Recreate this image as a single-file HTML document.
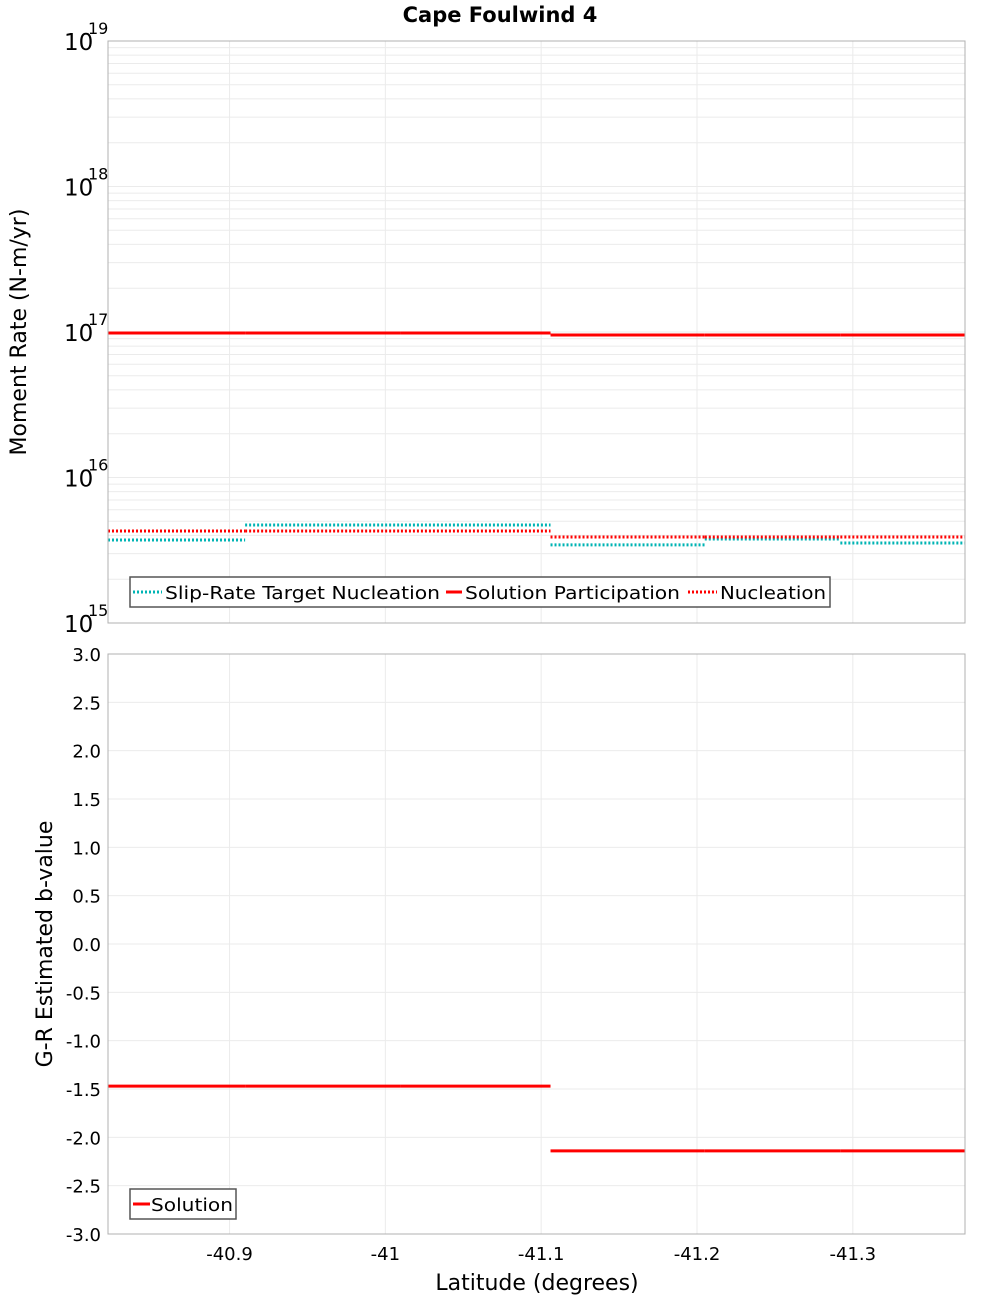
<!DOCTYPE html>
<html><head><meta charset="utf-8"><style>
body{margin:0;background:#fff;}
svg text{font-family:"DejaVu Sans","Liberation Sans",sans-serif;}
</style></head><body>
<svg id="c" width="1000" height="1300" xmlns="http://www.w3.org/2000/svg"></svg>
<script>
const xTicks=[-40.9,-41.0,-41.1,-41.2,-41.3];
const xTickLabels=["-40.9","-41","-41.1","-41.2","-41.3"];
const segEdges=[-40.822,-40.910,-41.010,-41.106,-41.205,-41.292,-41.372];
const slipTarget=[3.72e15,4.72e15,4.72e15,3.44e15,3.78e15,3.55e15];
const solPart=[9.85e16,9.85e16,9.85e16,9.54e16,9.54e16,9.54e16];
const nucleation=[4.29e15,4.29e15,4.29e15,3.9e15,3.9e15,3.9e15];
const bValue=[-1.47,-1.47,-1.47,-2.14,-2.14,-2.14];
const logTicks=[15,16,17,18,19];
const bTicks=[3,2.5,2,1.5,1,0.5,0,-0.5,-1,-1.5,-2,-2.5,-3];

const svg=document.getElementById('c');
const NS='http://www.w3.org/2000/svg';
function el(t,a,p){const e=document.createElementNS(NS,t);for(const k in a)e.setAttribute(k,a[k]);(p||svg).appendChild(e);return e;}
const L=108,R=965,T1=41,B1=623,T2=654,B2=1234;
const xs=v=>L+(v-segEdges[0])/(segEdges[segEdges.length-1]-segEdges[0])*(R-L);
const y1=v=>B1-(Math.log10(v)-15)/4*(B1-T1);
const y2=v=>B2-(v+3)/6*(B2-T2);

for(const [t,b,n] of [[T1,B1,'top-plot-area'],[T2,B2,'bottom-plot-area']]){
  const r=el('rect',{x:L,y:t,width:R-L,height:b-t,fill:'#fff',stroke:'none'});
  
}
for(const xt of xTicks){
  for(const [t,b] of [[T1,B1],[T2,B2]]){
    const g=el('line',{x1:xs(xt),x2:xs(xt),y1:t,y2:b,stroke:'#ebebeb','stroke-width':1});
    
  }
}
for(let d=15;d<19;d++)for(let m=1;m<10;m++){
  const v=m*Math.pow(10,d);const y=y1(v);
  const g=el('line',{x1:L,x2:R,y1:y,y2:y,stroke:'#ebebeb','stroke-width':1});
  
}
for(const b of bTicks){const y=y2(b);
  const g=el('line',{x1:L,x2:R,y1:y,y2:y,stroke:'#ebebeb','stroke-width':1});
  }

function series(vals,yf,color,dash,name){
  for(let i=0;i<vals.length;i++){
    const a={x1:xs(segEdges[i]),x2:xs(segEdges[i+1]),y1:yf(vals[i]),y2:yf(vals[i]),stroke:color,'stroke-width':3};
    if(dash)a['stroke-dasharray']='2,2';
    const l=el('line',a);
    
  }
}
series(solPart,y1,'#ff0000',false,'solution-participation-segment');
series(slipTarget,y1,'#00b4b4',true,'slip-rate-target-segment');
series(nucleation,y1,'#ff0000',true,'nucleation-segment');
series(bValue,y2,'#ff0000',false,'b-value-segment');

for(const [t,b] of [[T1,B1],[T2,B2]]){
  const r=el('rect',{x:L,y:t,width:R-L,height:b-t,fill:'none',stroke:'#b0b0b0'});
  
}
for(const e of logTicks){const y=y1(Math.pow(10,e));
  const t=el('text',{x:64,y:y+9,'font-size':23});t.textContent='10';
  
  const s=el('text',{x:88,y:y-7,'font-size':16});s.textContent=String(e);
  
}
for(const b of bTicks){
  const t=el('text',{x:101,y:y2(b)+7,'font-size':18,'text-anchor':'end'});t.textContent=b.toFixed(1);
  
}
xTicks.forEach((v,i)=>{
  const t=el('text',{x:xs(v),y:1260,'font-size':18,'text-anchor':'middle'});t.textContent=xTickLabels[i];
  
});
let t=el('text',{x:500,y:22,'font-size':21,'font-weight':'bold','text-anchor':'middle'});t.textContent='Cape Foulwind 4';

t=el('text',{x:537,y:1290,'font-size':22,'text-anchor':'middle'});t.textContent='Latitude (degrees)';

t=el('text',{x:0,y:0,'font-size':22,'text-anchor':'middle',transform:'translate(26,332) rotate(-90)'});t.textContent='Moment Rate (N-m/yr)';

t=el('text',{x:0,y:0,'font-size':22,'text-anchor':'middle',transform:'translate(52,944) rotate(-90)'});t.textContent='G-R Estimated b-value';


let lg=el('rect',{x:130,y:577,width:700,height:30,fill:'#fff',stroke:'#555','stroke-width':1.5});

const items=[[133,165,'#00b4b4',true,'Slip-Rate Target Nucleation',275],[446,465,'#ff0000',false,'Solution Participation',215],[688,720,'#ff0000',true,'Nucleation',106]];
for(const [x,tx0,c,d,lab,w] of items){
  const a={x1:x,x2:tx0-3,y1:592,y2:592,stroke:c,'stroke-width':3};if(d)a['stroke-dasharray']='2,2';
  const l=el('line',a);
  const tx=el('text',{x:tx0,y:599,'font-size':18,textLength:w,lengthAdjust:'spacingAndGlyphs'});tx.textContent=lab;
  
}
lg=el('rect',{x:130,y:1189,width:106,height:30,fill:'#fff',stroke:'#555','stroke-width':1.5});

let l=el('line',{x1:133,x2:150,y1:1204,y2:1204,stroke:'#ff0000','stroke-width':3});

t=el('text',{x:151,y:1211,'font-size':18,textLength:82,lengthAdjust:'spacingAndGlyphs'});t.textContent='Solution';

</script>
</body></html>
